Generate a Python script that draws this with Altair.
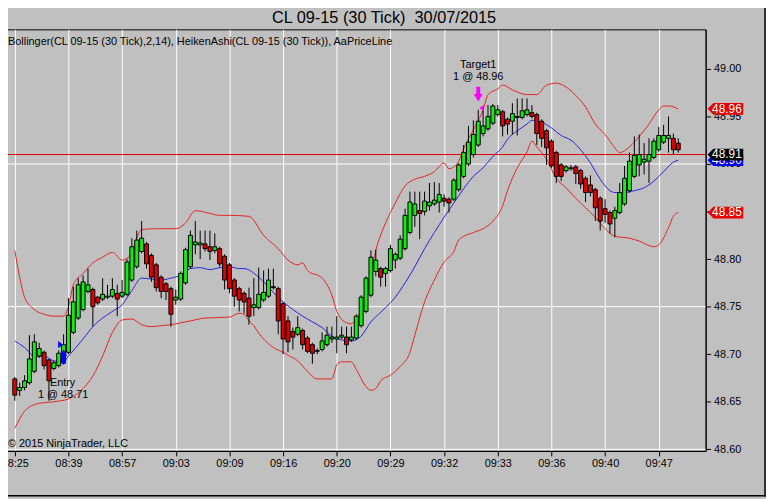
import altair as alt
import pandas as pd

FONT = "Liberation Sans"

# ---------------- Heiken Ashi bars (bar index 0..136, 30-tick bars) ----------------
ha_open = [48.674, 48.662, 48.665, 48.670, 48.682, 48.698, 48.702, 48.694, 48.685, 48.688,
           48.691, 48.702, 48.723, 48.738, 48.747, 48.766, 48.768, 48.760, 48.758, 48.760,
           48.761, 48.764, 48.761, 48.763, 48.778, 48.792, 48.808, 48.816, 48.804, 48.794,
           48.781, 48.774, 48.769, 48.757, 48.758, 48.775, 48.792, 48.815, 48.815, 48.816,
           48.813, 48.809, 48.811, 48.803, 48.794, 48.778, 48.769, 48.764, 48.759, 48.749,
           48.749, 48.757, 48.761, 48.771, 48.769, 48.753, 48.735, 48.724, 48.721, 48.725,
           48.717, 48.710, 48.703, 48.705, 48.710, 48.716, 48.716, 48.718, 48.718, 48.715,
           48.717, 48.730, 48.745, 48.762, 48.787, 48.790, 48.785, 48.788, 48.799, 48.801,
           48.811, 48.828, 48.846, 48.851, 48.850, 48.856, 48.858, 48.860, 48.864, 48.863,
           48.863, 48.873, 48.887, 48.900, 48.910, 48.920, 48.932, 48.937, 48.943, 48.952,
           48.955, 48.947, 48.945, 48.949, 48.949, 48.952, 48.954, 48.952, 48.945, 48.935,
           48.924, 48.912, 48.899, 48.893, 48.895, 48.897, 48.893, 48.885, 48.878, 48.873,
           48.864, 48.853, 48.849, 48.843, 48.849, 48.858, 48.872, 48.887, 48.899, 48.902,
           48.903, 48.907, 48.915, 48.923, 48.927, 48.927, 48.922]
ha_close = [48.657, 48.665, 48.672, 48.695, 48.713, 48.706, 48.688, 48.672, 48.691, 48.701,
            48.710, 48.741, 48.755, 48.773, 48.776, 48.773, 48.750, 48.754, 48.763, 48.761,
            48.768, 48.758, 48.765, 48.797, 48.813, 48.820, 48.822, 48.795, 48.781, 48.770,
            48.766, 48.766, 48.742, 48.760, 48.785, 48.810, 48.825, 48.818, 48.817, 48.811,
            48.808, 48.813, 48.795, 48.778, 48.769, 48.761, 48.757, 48.755, 48.740, 48.752,
            48.763, 48.765, 48.778, 48.770, 48.735, 48.716, 48.713, 48.718, 48.728, 48.710,
            48.703, 48.701, 48.704, 48.714, 48.720, 48.718, 48.718, 48.720, 48.710, 48.718,
            48.740, 48.760, 48.780, 48.802, 48.799, 48.781, 48.790, 48.811, 48.805, 48.821,
            48.846, 48.860, 48.858, 48.848, 48.861, 48.860, 48.862, 48.868, 48.861, 48.859,
            48.883, 48.899, 48.912, 48.923, 48.931, 48.945, 48.940, 48.950, 48.961, 48.957,
            48.940, 48.942, 48.953, 48.950, 48.956, 48.957, 48.950, 48.932, 48.927, 48.917,
            48.898, 48.887, 48.887, 48.897, 48.896, 48.890, 48.879, 48.870, 48.870, 48.854,
            48.840, 48.847, 48.837, 48.851, 48.870, 48.885, 48.903, 48.909, 48.910, 48.905,
            48.910, 48.924, 48.930, 48.930, 48.930, 48.915, 48.915]
ha_high = [48.676, 48.670, 48.678, 48.720, 48.721, 48.712, 48.704, 48.695, 48.693, 48.704,
           48.721, 48.759, 48.771, 48.780, 48.783, 48.790, 48.770, 48.761, 48.780, 48.773,
           48.780, 48.773, 48.778, 48.800, 48.822, 48.830, 48.840, 48.818, 48.806, 48.796,
           48.783, 48.776, 48.771, 48.768, 48.787, 48.812, 48.830, 48.840, 48.830, 48.830,
           48.830, 48.827, 48.813, 48.805, 48.796, 48.780, 48.771, 48.766, 48.770, 48.780,
           48.791, 48.788, 48.790, 48.790, 48.771, 48.755, 48.740, 48.728, 48.740, 48.727,
           48.719, 48.712, 48.706, 48.723, 48.729, 48.729, 48.740, 48.729, 48.729, 48.729,
           48.742, 48.762, 48.782, 48.809, 48.810, 48.792, 48.792, 48.815, 48.807, 48.825,
           48.853, 48.871, 48.871, 48.871, 48.871, 48.880, 48.881, 48.880, 48.868, 48.865,
           48.885, 48.901, 48.920, 48.940, 48.946, 48.957, 48.960, 48.962, 48.963, 48.962,
           48.957, 48.949, 48.964, 48.969, 48.969, 48.969, 48.962, 48.954, 48.947, 48.937,
           48.926, 48.914, 48.901, 48.899, 48.899, 48.899, 48.895, 48.887, 48.888, 48.875,
           48.866, 48.863, 48.851, 48.855, 48.880, 48.898, 48.912, 48.929, 48.931, 48.922,
           48.927, 48.927, 48.939, 48.941, 48.950, 48.932, 48.927]
ha_low = [48.651, 48.656, 48.662, 48.668, 48.680, 48.696, 48.684, 48.651, 48.683, 48.686,
          48.689, 48.700, 48.721, 48.736, 48.745, 48.764, 48.729, 48.752, 48.756, 48.758,
          48.759, 48.740, 48.759, 48.761, 48.776, 48.790, 48.806, 48.790, 48.776, 48.766,
          48.759, 48.757, 48.729, 48.752, 48.756, 48.773, 48.790, 48.805, 48.800, 48.808,
          48.799, 48.806, 48.792, 48.768, 48.764, 48.750, 48.745, 48.743, 48.731, 48.740,
          48.747, 48.755, 48.759, 48.768, 48.721, 48.700, 48.702, 48.705, 48.719, 48.705,
          48.701, 48.690, 48.700, 48.703, 48.708, 48.712, 48.701, 48.716, 48.701, 48.713,
          48.715, 48.728, 48.743, 48.760, 48.782, 48.771, 48.771, 48.786, 48.790, 48.799,
          48.809, 48.826, 48.834, 48.821, 48.846, 48.851, 48.856, 48.849, 48.855, 48.849,
          48.861, 48.871, 48.885, 48.898, 48.907, 48.918, 48.929, 48.935, 48.941, 48.950,
          48.929, 48.931, 48.931, 48.930, 48.947, 48.950, 48.948, 48.920, 48.918, 48.899,
          48.896, 48.880, 48.882, 48.891, 48.893, 48.879, 48.874, 48.860, 48.866, 48.840,
          48.830, 48.838, 48.827, 48.823, 48.847, 48.856, 48.870, 48.885, 48.887, 48.889,
          48.880, 48.905, 48.913, 48.921, 48.912, 48.910, 48.912]

# ---------------- Bollinger(14, 2) ----------------
upper_i = [0, 1, 2, 4, 6, 8, 10, 11, 12, 14, 16, 18, 20, 22, 24, 25, 26, 29, 33, 35,
           37, 40, 42, 44, 48, 51, 54, 56, 58, 59, 60, 63, 65, 66, 68, 69, 70, 72, 73, 74,
           76, 78, 80, 82, 84, 86, 88, 89, 91, 92, 94, 96, 97, 99, 100, 102, 105, 107, 109, 111,
           113, 115, 117, 119, 121, 123, 124, 126, 128, 130, 132, 133, 134, 136]
upper_v = [48.809, 48.781, 48.760, 48.747, 48.742, 48.740, 48.740, 48.750, 48.773, 48.785,
           48.796, 48.802, 48.807, 48.799, 48.806, 48.822, 48.831, 48.832, 48.832, 48.838,
           48.851, 48.848, 48.846, 48.846, 48.845, 48.825, 48.811, 48.799, 48.794, 48.796,
           48.788, 48.780, 48.762, 48.745, 48.733, 48.732, 48.738, 48.759, 48.786, 48.809,
           48.838, 48.859, 48.877, 48.884, 48.887, 48.892, 48.901, 48.895, 48.903, 48.916,
           48.936, 48.957, 48.973, 48.979, 48.983, 48.978, 48.973, 48.973, 48.983, 48.985,
           48.981, 48.972, 48.960, 48.942, 48.931, 48.917, 48.912, 48.918, 48.929, 48.942,
           48.957, 48.961, 48.961, 48.958]
mid_i = [0, 2, 4, 6, 8, 10, 11, 14, 16, 18, 20, 22, 24, 26, 28, 30, 32, 34, 36, 38,
         40, 42, 44, 46, 47, 50, 53, 55, 57, 59, 61, 63, 65, 67, 69, 71, 73, 75, 76, 78,
         80, 82, 84, 86, 88, 90, 92, 94, 96, 98, 100, 101, 103, 105, 106, 108, 110, 112, 114, 116,
         118, 120, 122, 123, 125, 127, 129, 131, 133, 135, 136]
mid_v = [48.714, 48.707, 48.698, 48.698, 48.693, 48.692, 48.698, 48.716, 48.729, 48.738,
         48.745, 48.752, 48.767, 48.780, 48.779, 48.778, 48.780, 48.783, 48.790, 48.791,
         48.789, 48.791, 48.792, 48.790, 48.790, 48.781, 48.765, 48.755, 48.747, 48.740,
         48.734, 48.728, 48.719, 48.715, 48.714, 48.719, 48.734, 48.744, 48.749, 48.760,
         48.775, 48.792, 48.811, 48.828, 48.844, 48.859, 48.874, 48.887, 48.896, 48.908,
         48.918, 48.926, 48.935, 48.942, 48.946, 48.944, 48.938, 48.930, 48.925, 48.915,
         48.901, 48.884, 48.872, 48.870, 48.870, 48.872, 48.875, 48.882, 48.892, 48.902,
         48.904]
lower_i = [0, 2, 4, 6, 8, 11, 14, 16, 18, 20, 22, 24, 26, 28, 30, 32, 34, 36, 39, 44,
           46, 47, 48, 49, 50, 51, 53, 55, 56, 58, 60, 62, 65, 66, 67, 69, 70, 72, 73, 74,
           75, 77, 79, 81, 82, 84, 86, 88, 90, 91, 94, 96, 98, 100, 101, 103, 105, 106, 107, 109,
           111, 113, 115, 117, 119, 121, 123, 126, 128, 131, 132, 134, 135, 136]
lower_v = [48.622, 48.640, 48.647, 48.649, 48.650, 48.653, 48.664, 48.677, 48.698, 48.723,
           48.736, 48.737, 48.731, 48.729, 48.730, 48.731, 48.733, 48.735, 48.738, 48.739,
           48.743, 48.742, 48.735, 48.730, 48.722, 48.716, 48.707, 48.702, 48.699, 48.693,
           48.682, 48.674, 48.674, 48.689, 48.692, 48.692, 48.684, 48.666, 48.662, 48.664,
           48.672, 48.678, 48.687, 48.702, 48.720, 48.755, 48.778, 48.797, 48.808, 48.820,
           48.828, 48.832, 48.840, 48.856, 48.872, 48.896, 48.913, 48.924, 48.918, 48.905,
           48.885, 48.875, 48.864, 48.854, 48.844, 48.832, 48.824, 48.822, 48.819, 48.813,
           48.815, 48.833, 48.845, 48.849]

# ---------------- axes / annotations ----------------
tick_bars = [0, 11, 22, 33, 44, 55, 66, 77, 88, 99, 110, 121, 132]
time_labels = ["08:25", "08:39", "08:57", "09:03", "09:09", "09:16", "09:20",
               "09:29", "09:32", "09:33", "09:36", "09:40", "09:47"]
y_ticks = [48.60, 48.65, 48.70, 48.75, 48.80, 48.85, 48.90, 48.95, 49.00]
h_grid = [48.60, 48.75, 48.90]
last_price = 48.91
# right-edge value tags: last band values and the last price
tag_back_p = [mid_v[-1]]
tag_back_c = ["#0000E6"]
tag_front_p = [upper_v[-1], last_price, lower_v[-1]]
tag_front_c = ["#E80000", "#000000", "#E80000"]
trade_bar = [10, 95]
trade_price = [48.71, 48.96]
trade_name = ["Entry", "Target1"]
trade_label = ["1 @ 48.71", "1 @ 48.96"]

TITLE = "CL 09-15 (30 Tick) \u00a030/07/2015"
SUBTITLE = "Bollinger(CL 09-15 (30 Tick),2,14), HeikenAshi(CL 09-15 (30 Tick)), AaPriceLine"
COPYRIGHT = "\u00a9 2015 NinjaTrader, LLC"

BG = "#C0C0C0"
GREEN = "#12EC12"
RED = "#E00000"
BAND_RED = "#E42424"
BAND_BLUE = "#2424DC"

# ---------------- tables ----------------
bars = pd.DataFrame({"i": list(range(len(ha_open))), "open": ha_open, "high": ha_high,
                     "low": ha_low, "close": ha_close})
bars["fill"] = [GREEN if c >= o else RED for o, c in zip(ha_open, ha_close)]

upper_df = pd.DataFrame({"i": upper_i, "v": upper_v})
mid_df = pd.DataFrame({"i": mid_i, "v": mid_v})
lower_df = pd.DataFrame({"i": lower_i, "v": lower_v})

trades = pd.DataFrame({"i": trade_bar, "p": trade_price, "name": trade_name, "label": trade_label})
entry = trades[trades["name"] == "Entry"]
target = trades[trades["name"] == "Target1"]

X_SCALE = alt.Scale(domain=[-1.8, 140.6], nice=False, zero=False)
Y_SCALE = alt.Scale(domain=[48.5983, 49.0416], nice=False, zero=False)

label_expr = "[" + ",".join("'%s'" % t for t in time_labels) + "][round(datum.value / 11)]"
X_AXIS = alt.Axis(values=tick_bars, labelExpr=label_expr, title=None, grid=True,
                  gridColor="white", gridOpacity=1, gridWidth=1, tickSize=5,
                  tickColor="black", domainColor="black", labelColor="black",
                  labelFont=FONT, labelFontSize=11, labelPadding=2, labelFlush=False,
                  labelOverlap=False)
Y_AXIS = alt.Axis(orient="right", values=y_ticks, format=".2f", title=None, grid=False,
                  tickSize=5, tickColor="black", domainColor="black", labelColor="black",
                  labelFont=FONT, labelFontSize=11, labelPadding=3, labelOverlap=False,
                  labelFlush=False)


def X(f):
    return alt.X(f, type="quantitative", scale=X_SCALE, axis=X_AXIS)


def Y(f):
    return alt.Y(f, type="quantitative", scale=Y_SCALE, axis=Y_AXIS)


grid_h = alt.Chart(pd.DataFrame({"p": h_grid})).mark_rule(color="white", strokeWidth=1).encode(
    y=Y("p"))


def band(df, col):
    return alt.Chart(df).mark_line(strokeWidth=1, interpolate="monotone", color=col).encode(
        x=X("i"), y=Y("v"))


price_line = alt.Chart(pd.DataFrame({"p": [last_price]})).mark_rule(
    color=RED, strokeWidth=1).encode(y=Y("p"))

wicks = alt.Chart(bars).mark_rule(color="black", strokeWidth=1).encode(
    x=X("i"), y=Y("low"), y2="high")

bodies = alt.Chart(bars).mark_bar(size=4, stroke="black", strokeWidth=1, opacity=1).encode(
    x=X("i"), y=Y("open"), y2="close", fill=alt.Fill("fill:N", scale=None))

ENTRY_ARROW = "M0,0.46L0.35,1.1L0.18,1.1L0.18,1.95L-0.18,1.95L-0.18,1.1L-0.35,1.1Z"
ENTRY_TRI = "M-0.55,-0.37L-0.05,0L-0.55,0.37Z"
TARGET_ARROW = "M-0.2,-2.05L0.2,-2.05L0.2,-1.3L0.45,-1.3L0,-0.55L-0.45,-1.3L-0.2,-1.3Z"
TARGET_TRI = "M0.1,0.1L0.57,-0.2L0.57,0.4Z"


def marker(df, path, col):
    return alt.Chart(df).mark_point(shape=path, size=400, filled=True, opacity=1,
                                    strokeWidth=0, color=col).encode(x=X("i"), y=Y("p"))


def tlabel(df, field, dx, dy):
    return alt.Chart(df).mark_text(font=FONT, fontSize=11, color="black", align="center",
                                   baseline="middle", dx=dx, dy=dy).encode(
        x=X("i"), y=Y("p"), text=field + ":N")


TAG = "M-1,0L-0.67,-0.33L1,-0.33L1,0.33L-0.67,0.33Z"


def tag_shape(ps, cs):
    return alt.Chart(pd.DataFrame({"p": ps, "c": cs})).mark_point(
        shape=TAG, size=1296, filled=True, opacity=1, strokeWidth=0).encode(
        x=alt.value(732), y=Y("p"), fill=alt.Fill("c:N", scale=None))


def tag_text(ps):
    return alt.Chart(pd.DataFrame({"p": ps})).mark_text(
        font=FONT, fontSize=12, color="white", align="center", baseline="middle").encode(
        x=alt.value(733.5), y=Y("p"), text=alt.Text("p:Q", format=".2f"))


def static_text(t, x, y, size, align):
    return alt.Chart(pd.DataFrame({"t": [t]})).mark_text(
        font=FONT, fontSize=size, color="black", align=align, baseline="middle").encode(
        x=alt.value(x), y=alt.value(y), text="t:N")


frame = alt.Chart(pd.DataFrame({"k": [0]}))
frame_r = frame.mark_rule(color="black", strokeWidth=1.5).encode(
    x=alt.value(772), y=alt.value(-27), y2=alt.value(472))
frame_b = frame.mark_rule(color="black", strokeWidth=1.5).encode(
    y=alt.value(471.3), x=alt.value(-8), x2=alt.value(773))

chart = alt.layer(
    grid_h, band(upper_df, BAND_RED), band(mid_df, BAND_BLUE), band(lower_df, BAND_RED),
    price_line, wicks, bodies,
    marker(entry, ENTRY_TRI, "#0000FF"), marker(entry, ENTRY_ARROW, "#0000FF"),
    marker(target, TARGET_TRI, "#FF00FF"), marker(target, TARGET_ARROW, "#FF00FF"),
    tlabel(entry, "name", -1, 38.6), tlabel(entry, "label", -0.5, 50.6),
    tlabel(target, "name", 0, -42), tlabel(target, "label", 0, -30),
    tag_shape(tag_back_p, tag_back_c), tag_text(tag_back_p),
    tag_shape(tag_front_p, tag_front_c), tag_text(tag_front_p),
    static_text(TITLE, 387, -11.5, 16.5, "center"),
    static_text(SUBTITLE, 7, 13, 11, "left"),
    static_text(COPYRIGHT, 7, 419, 11, "left"),
    frame_r, frame_b,
).properties(
    width=712, height=426,
    padding={"left": -7, "top": 19, "right": 61, "bottom": 46},
    autosize="none",
    background=BG,
).configure_view(stroke="black", strokeWidth=1)

chart.save("out.html", embed_options={"renderer": "svg", "actions": False})
